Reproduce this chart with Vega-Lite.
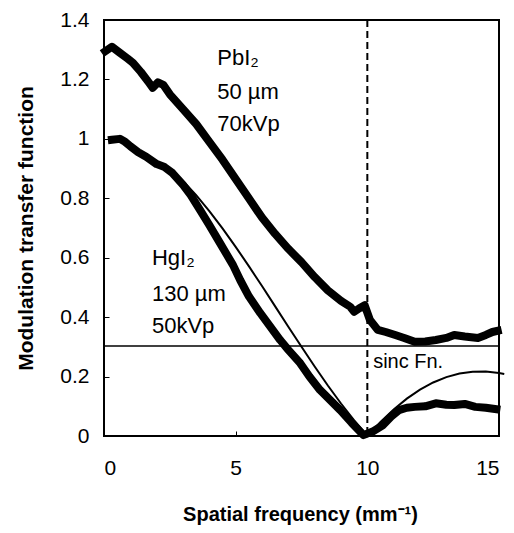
{
  "$schema": "https://vega.github.io/schema/vega-lite/v6.json",
  "width": 395,
  "height": 416,
  "autosize": {"type": "none"},
  "padding": {"left": 104, "top": 20, "right": 15, "bottom": 97},
  "background": "white",
  "config": {
    "font": "Liberation Sans",
    "view": {"stroke": "#000", "strokeWidth": 2},
    "axis": {"grid": false, "domain": false, "tickColor": "#000", "labelColor": "#000", "titleColor": "#000", "labelFont": "Liberation Sans", "titleFont": "Liberation Sans", "labelFontSize": 21, "titleFontSize": 20, "titleFontWeight": "bold"}
  },
  "datasets": {
    "pbi2": [
      {"x": 0.05, "y": 1.295}, {"x": 0.3, "y": 1.31}, {"x": 0.6, "y": 1.29}, {"x": 0.9, "y": 1.27},
      {"x": 1.1, "y": 1.256}, {"x": 1.4, "y": 1.225}, {"x": 1.7, "y": 1.19}, {"x": 1.85, "y": 1.172},
      {"x": 2.05, "y": 1.19}, {"x": 2.25, "y": 1.182}, {"x": 2.5, "y": 1.15}, {"x": 3.0, "y": 1.1},
      {"x": 3.5, "y": 1.05}, {"x": 4.0, "y": 0.99}, {"x": 4.5, "y": 0.93}, {"x": 5.0, "y": 0.865},
      {"x": 5.5, "y": 0.8}, {"x": 6.0, "y": 0.735}, {"x": 6.5, "y": 0.68}, {"x": 7.0, "y": 0.63},
      {"x": 7.5, "y": 0.585}, {"x": 8.0, "y": 0.535}, {"x": 8.5, "y": 0.49}, {"x": 9.0, "y": 0.455},
      {"x": 9.35, "y": 0.435}, {"x": 9.5, "y": 0.418}, {"x": 9.7, "y": 0.43}, {"x": 9.9, "y": 0.44},
      {"x": 10.1, "y": 0.39}, {"x": 10.4, "y": 0.357}, {"x": 10.7, "y": 0.35}, {"x": 11.06, "y": 0.34},
      {"x": 11.4, "y": 0.33}, {"x": 11.8, "y": 0.317}, {"x": 12.2, "y": 0.318}, {"x": 12.6, "y": 0.323},
      {"x": 13.0, "y": 0.33}, {"x": 13.3, "y": 0.34}, {"x": 13.7, "y": 0.335}, {"x": 14.2, "y": 0.33},
      {"x": 14.5, "y": 0.34}, {"x": 14.75, "y": 0.35}, {"x": 14.95, "y": 0.354}
    ],
    "hgi2": [
      {"x": 0.3, "y": 0.997}, {"x": 0.6, "y": 1.0}, {"x": 0.8, "y": 0.99}, {"x": 1.0, "y": 0.975},
      {"x": 1.3, "y": 0.955}, {"x": 1.6, "y": 0.94}, {"x": 2.0, "y": 0.915}, {"x": 2.3, "y": 0.905},
      {"x": 2.6, "y": 0.885}, {"x": 3.0, "y": 0.845}, {"x": 3.3, "y": 0.81}, {"x": 3.65, "y": 0.76},
      {"x": 4.0, "y": 0.71}, {"x": 4.4, "y": 0.65}, {"x": 4.9, "y": 0.575}, {"x": 5.17, "y": 0.525},
      {"x": 5.5, "y": 0.47}, {"x": 5.93, "y": 0.414}, {"x": 6.3, "y": 0.37}, {"x": 6.69, "y": 0.323},
      {"x": 7.0, "y": 0.29}, {"x": 7.45, "y": 0.245}, {"x": 7.8, "y": 0.2}, {"x": 8.2, "y": 0.155},
      {"x": 8.6, "y": 0.12}, {"x": 8.97, "y": 0.087}, {"x": 9.4, "y": 0.045}, {"x": 9.85, "y": 0.003},
      {"x": 10.2, "y": 0.015}, {"x": 10.57, "y": 0.035}, {"x": 10.9, "y": 0.065}, {"x": 11.2, "y": 0.087},
      {"x": 11.5, "y": 0.095}, {"x": 11.8, "y": 0.098}, {"x": 12.2, "y": 0.1}, {"x": 12.6, "y": 0.11},
      {"x": 13.0, "y": 0.105}, {"x": 13.3, "y": 0.104}, {"x": 13.7, "y": 0.108}, {"x": 14.1, "y": 0.098},
      {"x": 14.5, "y": 0.095}, {"x": 14.9, "y": 0.09}
    ],
    "sinc": [
      {"x": 2.5, "y": 0.9003}, {"x": 3.0, "y": 0.8584}, {"x": 3.5, "y": 0.8103}, {"x": 4.0, "y": 0.7568},
      {"x": 4.5, "y": 0.6987}, {"x": 5.0, "y": 0.6366}, {"x": 5.5, "y": 0.5716}, {"x": 6.0, "y": 0.5046},
      {"x": 6.5, "y": 0.4363}, {"x": 7.0, "y": 0.3679}, {"x": 7.5, "y": 0.3001}, {"x": 8.0, "y": 0.2339},
      {"x": 8.5, "y": 0.17}, {"x": 9.0, "y": 0.1093}, {"x": 9.5, "y": 0.0524}, {"x": 10.0, "y": 0.0},
      {"x": 10.5, "y": 0.0474}, {"x": 11.0, "y": 0.0894}, {"x": 11.5, "y": 0.1257}, {"x": 12.0, "y": 0.1559},
      {"x": 12.5, "y": 0.1801}, {"x": 13.0, "y": 0.1981}, {"x": 13.5, "y": 0.2101}, {"x": 14.0, "y": 0.2162},
      {"x": 14.5, "y": 0.2168}, {"x": 15.0, "y": 0.2122}, {"x": 15.2, "y": 0.209}
    ],
    "labels": [
      {"x": 4.3, "y": 1.273, "t": "PbI₂", "s": 22},
      {"x": 4.3, "y": 1.158, "t": "50 µm", "s": 22},
      {"x": 4.3, "y": 1.05, "t": "70kVp", "s": 22},
      {"x": 1.82, "y": 0.6, "t": "HgI₂", "s": 22},
      {"x": 1.82, "y": 0.478, "t": "130 µm", "s": 22},
      {"x": 1.82, "y": 0.37, "t": "50kVp", "s": 22},
      {"x": 10.22, "y": 0.249, "t": "sinc Fn.", "s": 20}
    ],
    "hline": [{"y": 0.303}],
    "vline": [{"x": 10}]
  },
  "layer": [
    {
      "data": {"name": "hline"},
      "mark": {"type": "rule", "color": "#000", "strokeWidth": 1.5},
      "encoding": {"y": {"field": "y", "type": "quantitative", "scale": {"domain": [0, 1.4], "nice": false},
        "axis": {"values": [0, 0.2, 0.4, 0.6, 0.8, 1, 1.2, 1.4], "format": ".1~f", "tickSize": -5, "labelPadding": 20,
          "title": "Modulation transfer function", "titleFontSize": 21, "titleX": -78, "titleY": 208, "titleAngle": -90, "titleAlign": "center", "titleBaseline": "middle"}}}
    },
    {
      "data": {"name": "vline"},
      "mark": {"type": "rule", "color": "#000", "strokeWidth": 2, "strokeDash": [7, 4]},
      "encoding": {"x": {"field": "x", "type": "quantitative", "scale": {"domain": [0, 15], "nice": false},
        "axis": {"values": [0, 5, 10, 15], "tickSize": -5, "labelPadding": 26,
          "title": "Spatial frequency (mm⁻¹)", "titleX": 196, "titleY": 78, "titleAlign": "center", "titleBaseline": "middle"}}}
    },
    {
      "data": {"name": "sinc"},
      "mark": {"type": "line", "color": "#000", "strokeWidth": 2},
      "encoding": {"x": {"field": "x", "type": "quantitative", "scale": {"domain": [0, 15], "nice": false}}, "y": {"field": "y", "type": "quantitative", "scale": {"domain": [0, 1.4], "nice": false}}}
    },
    {
      "data": {"name": "hgi2"},
      "mark": {"type": "line", "color": "#000", "strokeWidth": 8, "strokeJoin": "round", "strokeCap": "square"},
      "encoding": {"x": {"field": "x", "type": "quantitative", "scale": {"domain": [0, 15], "nice": false}}, "y": {"field": "y", "type": "quantitative", "scale": {"domain": [0, 1.4], "nice": false}}}
    },
    {
      "data": {"name": "pbi2"},
      "mark": {"type": "line", "color": "#000", "strokeWidth": 8, "strokeJoin": "round", "strokeCap": "square"},
      "encoding": {"x": {"field": "x", "type": "quantitative", "scale": {"domain": [0, 15], "nice": false}}, "y": {"field": "y", "type": "quantitative", "scale": {"domain": [0, 1.4], "nice": false}}}
    },
    {
      "data": {"name": "labels"},
      "mark": {"type": "text", "align": "left", "baseline": "middle", "font": "Liberation Sans", "color": "#000"},
      "encoding": {"x": {"field": "x", "type": "quantitative", "scale": {"domain": [0, 15], "nice": false}}, "y": {"field": "y", "type": "quantitative", "scale": {"domain": [0, 1.4], "nice": false}}, "text": {"field": "t"}, "size": {"field": "s", "type": "quantitative", "scale": null}}
    }
  ]
}
